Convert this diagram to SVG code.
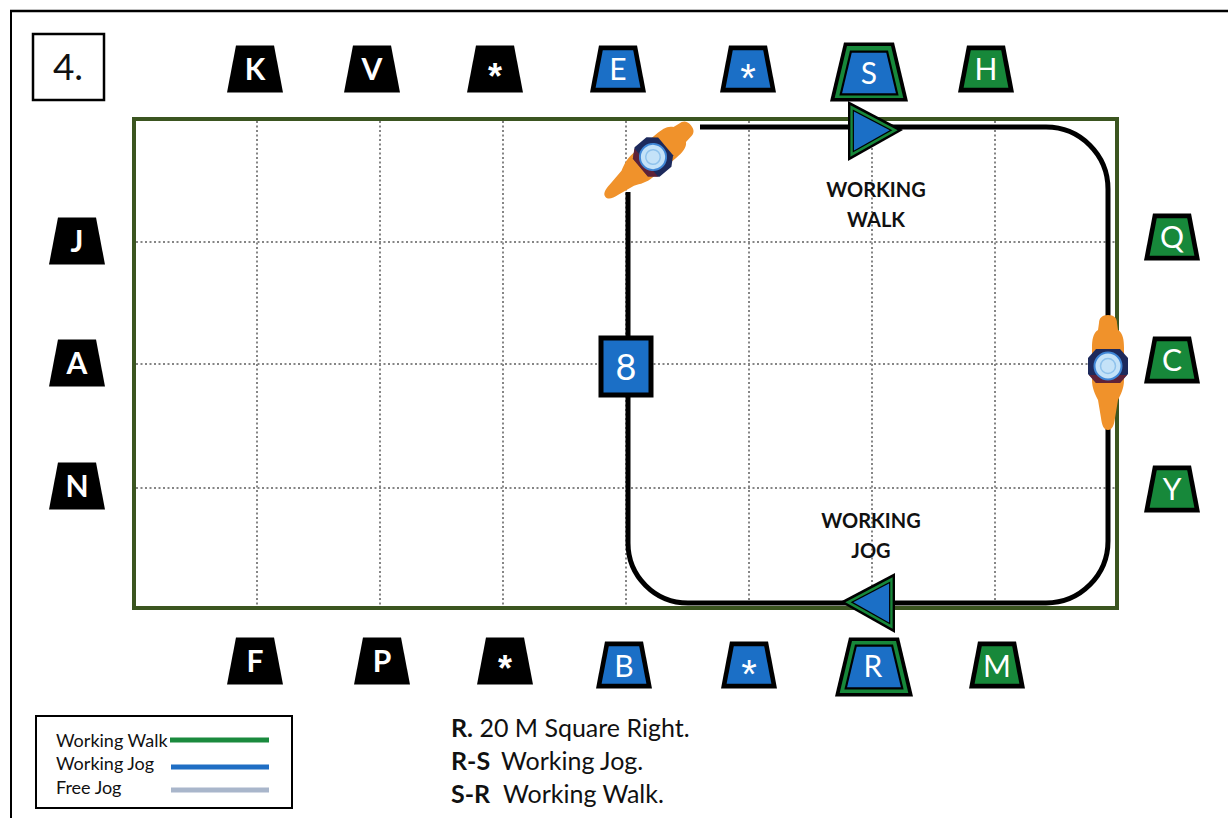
<svg xmlns="http://www.w3.org/2000/svg" xmlns:xlink="http://www.w3.org/1999/xlink" width="1228" height="818" viewBox="0 0 1228 818">
  <style>
    text { font-family: Lato, "Liberation Sans", sans-serif; }
    .grid { stroke: #858585; stroke-width: 2; stroke-dasharray: 2 2.5; fill: none; }
    .arena { fill: none; stroke: #3b5520; stroke-width: 4; }
    .track { fill: none; stroke: #000; stroke-width: 5; stroke-linejoin: round; }
    .blk { fill: #000; }
    .blue { fill: #1b6fc6; }
    .green { fill: #17883a; }
    .ltr { fill: #fff; font-size: 30px; text-anchor: middle; }
    .ltrB { fill: #fff; font-size: 30px; font-weight: bold; text-anchor: middle; }
    .star { fill: #fff; font-family: "Liberation Sans", sans-serif; font-size: 40px; text-anchor: middle; }
    .starB { fill: #fff; font-family: "Liberation Sans", sans-serif; font-size: 36px; font-weight: bold; text-anchor: middle; }
    .gait { font-size: 20px; font-weight: bold; text-anchor: middle; fill: #111; }
    .legend { font-size: 18px; fill: #111; }
    .instr { font-size: 25px; fill: #111; }
    .horse { fill: #f0922b; }
    .rider { fill: #1d2a5c; }
    .helmet { fill: #c4e2f8; stroke: #3f86d6; stroke-width: 2; }
    .helmet2 { fill: none; stroke: #8fc2ec; stroke-width: 1.5; }
  </style>
  <defs>
    <!-- small letter marker, centred on origin -->
    <path id="tz" d="M-19,-23.5 L19,-23.5 L28,23.5 L-28,23.5 Z"/>
    <!-- large letter marker -->
    <path id="tzL" d="M-25,-29.5 L25,-29.5 L39,29.5 L-39,29.5 Z"/>
    <!-- direction arrow pointing right, centred on its incentre -->
    <path id="tri" d="M-17,-30 L-17,30 L38,-1 Z"/>
    <!-- horse and rider seen from above, heading up -->
    <g id="horse">
      <path class="horse" d="M0,-51 C6,-51 9,-48 9,-43 L10,-36 C15,-33 16,-26 16,-18 L16,14 C16,22 13,28 10,34 L7,52 C6,60 4,64 0,64 C-4,64 -6,60 -7,52 L-10,34 C-13,28 -16,22 -16,14 L-16,-18 C-16,-26 -15,-33 -10,-36 L-9,-43 C-9,-48 -6,-51 0,-51 Z"/>
      <path class="rider" d="M-12,-17 L12,-17 L20,-8 L20,8 L12,17 L-12,17 L-20,8 L-20,-8 Z"/>
      <path d="M-19,9 L-12,17 L12,17 L19,9" fill="#7a1f2a" opacity="0.7"/>
      <circle class="helmet" cx="0" cy="0" r="13.5"/>
      <circle class="helmet2" cx="0" cy="0" r="7.5"/>
    </g>
  </defs>

  <rect x="0" y="0" width="1228" height="818" fill="#fff"/>

  <!-- page frame -->
  <g id="frame" stroke="#000" fill="none">
    <line x1="10" y1="11" x2="1228" y2="11" stroke-width="2.5"/>
    <line x1="11" y1="10" x2="11" y2="818" stroke-width="2"/>
  </g>

  <!-- exercise number -->
  <g id="number">
    <rect x="33" y="34" width="71" height="66" fill="#fff" stroke="#000" stroke-width="2.5"/>
    <text x="68" y="80" font-size="37" text-anchor="middle" fill="#111">4.</text>
  </g>

  <!-- arena grid -->
  <g id="grid">
    <line class="grid" x1="257" y1="121" x2="257" y2="606"/>
    <line class="grid" x1="380" y1="121" x2="380" y2="606"/>
    <line class="grid" x1="503" y1="121" x2="503" y2="606"/>
    <line class="grid" x1="626" y1="121" x2="626" y2="606"/>
    <line class="grid" x1="749" y1="121" x2="749" y2="606"/>
    <line class="grid" x1="872" y1="121" x2="872" y2="606"/>
    <line class="grid" x1="995" y1="121" x2="995" y2="606"/>
    <line class="grid" x1="136" y1="242" x2="1115" y2="242"/>
    <line class="grid" x1="136" y1="364" x2="1115" y2="364"/>
    <line class="grid" x1="136" y1="488" x2="1115" y2="488"/>
  </g>

  <g id="arena">
    <rect class="arena" x="134" y="119" width="983" height="489"/>
  </g>

  <!-- ridden path -->
  <g id="connectors">
    <path class="track" d="M628,192 L628,543 A60,60 0 0 0 688,603 L1046,603 A62,62 0 0 0 1108,541 L1108,189 A62,62 0 0 0 1046,127 L700,127"/>
    <!-- direction arrows -->
    <g id="arrow-walk" transform="translate(865,131)">
      <use xlink:href="#tri" class="blk"/>
      <use xlink:href="#tri" class="green" transform="scale(0.86)"/>
      <use xlink:href="#tri" class="blk" transform="scale(0.72)"/>
      <use xlink:href="#tri" class="blue" transform="scale(0.65)"/>
    </g>
    <g id="arrow-jog" transform="translate(878,603) scale(-1,1)">
      <use xlink:href="#tri" class="blk"/>
      <use xlink:href="#tri" class="green" transform="scale(0.86)"/>
      <use xlink:href="#tri" class="blk" transform="scale(0.72)"/>
      <use xlink:href="#tri" class="blue" transform="scale(0.65)"/>
    </g>
  </g>

  <!-- gait labels -->
  <g id="label-walk">
    <text class="gait" x="876" y="197">WORKING</text>
    <text class="gait" x="876" y="227">WALK</text>
  </g>
  <g id="label-jog">
    <text class="gait" x="871" y="528">WORKING</text>
    <text class="gait" x="871" y="558">JOG</text>
  </g>

  <!-- cone 8 -->
  <g id="cone-8">
    <rect x="601" y="338" width="50" height="57" class="blue" stroke="#000" stroke-width="5"/>
    <text x="626" y="380" font-size="36" fill="#fff" text-anchor="middle">8</text>
  </g>

  <!-- horses -->
  <g id="horse-top">
    <use xlink:href="#horse" transform="translate(653,157) rotate(50) scale(0.97)"/>
  </g>
  <g id="horse-right">
    <use xlink:href="#horse" transform="translate(1108,366)"/>
  </g>

  <!-- letters, top side -->
  <g id="marker-K"><use xlink:href="#tz" class="blk" x="255" y="69"/><text class="ltrB" x="255" y="80">K</text></g>
  <g id="marker-V"><use xlink:href="#tz" class="blk" x="372" y="69"/><text class="ltrB" x="372" y="80">V</text></g>
  <g id="marker-star1"><use xlink:href="#tz" class="blk" x="495" y="69"/><text class="starB" x="495" y="89">*</text></g>
  <g id="marker-E">
    <use xlink:href="#tz" class="blk" x="618" y="69"/>
    <use xlink:href="#tz" class="blue" transform="translate(618,69) scale(0.8)"/>
    <text class="ltr" x="618" y="80">E</text>
  </g>
  <g id="marker-star2">
    <use xlink:href="#tz" class="blk" x="748" y="69"/>
    <use xlink:href="#tz" class="blue" transform="translate(748,69) scale(0.8)"/>
    <text class="star" x="748" y="92">*</text>
  </g>
  <g id="marker-S">
    <use xlink:href="#tzL" class="blk" x="869" y="72"/>
    <use xlink:href="#tzL" class="green" transform="translate(869,72) scale(0.88)"/>
    <use xlink:href="#tzL" class="blk" transform="translate(869,73) scale(0.76)"/>
    <use xlink:href="#tzL" class="blue" transform="translate(869,73) scale(0.69)"/>
    <text class="ltr" x="869" y="84">S</text>
  </g>
  <g id="marker-H">
    <use xlink:href="#tz" class="blk" x="986" y="69"/>
    <use xlink:href="#tz" class="green" transform="translate(986,69) scale(0.8)"/>
    <text class="ltr" x="986" y="80">H</text>
  </g>

  <!-- letters, left side -->
  <g id="marker-J"><use xlink:href="#tz" class="blk" x="77" y="241"/><text class="ltrB" x="77" y="252">J</text></g>
  <g id="marker-A"><use xlink:href="#tz" class="blk" x="77" y="363"/><text class="ltrB" x="77" y="374">A</text></g>
  <g id="marker-N"><use xlink:href="#tz" class="blk" x="77" y="486"/><text class="ltrB" x="77" y="497">N</text></g>

  <!-- letters, right side -->
  <g id="marker-Q">
    <use xlink:href="#tz" class="blk" x="1172" y="237"/>
    <use xlink:href="#tz" class="green" transform="translate(1172,237) scale(0.8)"/>
    <text class="ltr" x="1172" y="248" font-size="32">Q</text>
  </g>
  <g id="marker-C">
    <use xlink:href="#tz" class="blk" x="1172" y="360"/>
    <use xlink:href="#tz" class="green" transform="translate(1172,360) scale(0.8)"/>
    <text class="ltr" x="1172" y="371" font-size="32">C</text>
  </g>
  <g id="marker-Y">
    <use xlink:href="#tz" class="blk" x="1172" y="489"/>
    <use xlink:href="#tz" class="green" transform="translate(1172,489) scale(0.8)"/>
    <text class="ltr" x="1172" y="500" font-size="32">Y</text>
  </g>

  <!-- letters, bottom side -->
  <g id="marker-F"><use xlink:href="#tz" class="blk" x="255" y="661"/><text class="ltrB" x="255" y="672">F</text></g>
  <g id="marker-P"><use xlink:href="#tz" class="blk" x="382" y="661"/><text class="ltrB" x="382" y="672">P</text></g>
  <g id="marker-star3"><use xlink:href="#tz" class="blk" x="505" y="661"/><text class="starB" x="505" y="681">*</text></g>
  <g id="marker-B">
    <use xlink:href="#tz" class="blk" x="624" y="665"/>
    <use xlink:href="#tz" class="blue" transform="translate(624,665) scale(0.8)"/>
    <text class="ltr" x="624" y="677">B</text>
  </g>
  <g id="marker-star4">
    <use xlink:href="#tz" class="blk" x="749" y="665"/>
    <use xlink:href="#tz" class="blue" transform="translate(749,665) scale(0.8)"/>
    <text class="star" x="749" y="688">*</text>
  </g>
  <g id="marker-R">
    <use xlink:href="#tzL" class="blk" x="874" y="667"/>
    <use xlink:href="#tzL" class="green" transform="translate(874,667) scale(0.88)"/>
    <use xlink:href="#tzL" class="blk" transform="translate(874,667) scale(0.76)"/>
    <use xlink:href="#tzL" class="blue" transform="translate(874,667) scale(0.69)"/>
    <text class="ltr" x="873" y="677">R</text>
  </g>
  <g id="marker-M">
    <use xlink:href="#tz" class="blk" x="997" y="665"/>
    <use xlink:href="#tz" class="green" transform="translate(997,665) scale(0.8)"/>
    <text class="ltr" x="997" y="677">M</text>
  </g>

  <!-- legend -->
  <g id="legend">
    <rect x="36" y="716" width="256" height="92" fill="#fff" stroke="#000" stroke-width="2"/>
    <text class="legend" x="56" y="747">Working Walk</text>
    <text class="legend" x="56" y="770">Working Jog</text>
    <text class="legend" x="56" y="794">Free Jog</text>
    <line x1="170" y1="740" x2="269" y2="740" stroke="#1a8a3e" stroke-width="5"/>
    <line x1="171" y1="767" x2="269" y2="767" stroke="#1f6ec4" stroke-width="5"/>
    <line x1="171" y1="790" x2="269" y2="790" stroke="#a9b6cb" stroke-width="5"/>
  </g>

  <!-- test sheet -->
  <g id="instructions">
    <text class="instr" x="451" y="737"><tspan font-weight="bold">R.</tspan> 20 M Square Right.</text>
    <text class="instr" x="451" y="770"><tspan font-weight="bold">R-S</tspan><tspan x="501">Working Jog.</tspan></text>
    <text class="instr" x="451" y="803"><tspan font-weight="bold">S-R</tspan><tspan x="503">Working Walk.</tspan></text>
  </g>
</svg>
